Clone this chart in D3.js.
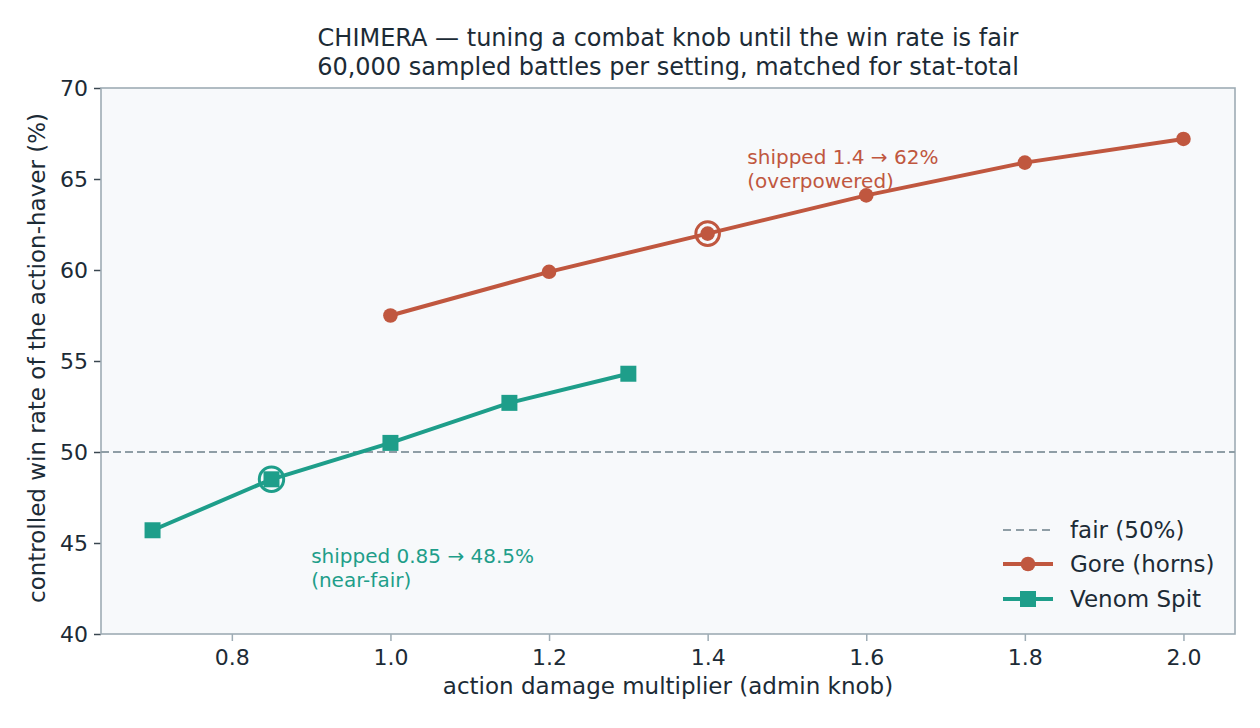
<!DOCTYPE html>
<html><head><meta charset="utf-8">
<script src="https://cdn.jsdelivr.net/npm/d3@7"></script>
<style>body{margin:0;background:#fff;font-family:"DejaVu Sans",sans-serif;}</style>
</head><body><svg id="c" width="1260" height="728"></svg>
<script>
const goreX = [1.0, 1.2, 1.4, 1.6, 1.8, 2.0];
const goreY = [57.5, 59.9, 62.0, 64.1, 65.9, 67.2];
const venomX = [0.7, 0.85, 1.0, 1.15, 1.3];
const venomY = [45.7, 48.5, 50.5, 52.7, 54.3];
const xTicks = [0.8, 1.0, 1.2, 1.4, 1.6, 1.8, 2.0];
const yTicks = [40, 45, 50, 55, 60, 65, 70];
const fairLine = 50;
const shippedGore = [1.4, 62.0];
const shippedVenom = [0.85, 48.5];

const C_GORE = "#c0573f", C_VEN = "#1e9e8a", C_TXT = "#1c2b36", C_SPINE = "#9eacb5";
const svg = d3.select("#c");
const L = 101, R = 1235, T = 88, B = 634;
const x = d3.scaleLinear().domain([0.635, 2.065]).range([L, R]);
const y = d3.scaleLinear().domain([40, 70]).range([B, T]);

svg.append("rect").attr("x", L).attr("y", T).attr("width", R - L).attr("height", B - T).attr("fill", "#f7f9fb");

// axes
const xa = svg.append("g").attr("transform", `translate(0,${B})`)
  .call(d3.axisBottom(x).tickValues(xTicks).tickFormat(d3.format(".1f")).tickSize(7).tickPadding(8));
const ya = svg.append("g").attr("transform", `translate(${L},0)`)
  .call(d3.axisLeft(y).tickValues(yTicks).tickFormat(d3.format("d")).tickSize(7).tickPadding(6));
[xa, ya].forEach(a => {
  a.select(".domain").remove();
  a.selectAll("text").attr("fill", C_TXT).style("font-size", "22px").style("font-family", "DejaVu Sans");
});
xa.selectAll("line").attr("stroke", C_SPINE).attr("stroke-width", 1.5);
ya.selectAll("line").attr("stroke", "#3a4750").attr("stroke-width", 1.5);

svg.append("rect").attr("x", L).attr("y", T).attr("width", R - L).attr("height", B - T)
  .attr("fill", "none").attr("stroke", C_SPINE).attr("stroke-width", 1.6);

// fair line
svg.append("line").attr("x1", L).attr("x2", R).attr("y1", y(fairLine)).attr("y2", y(fairLine))
  .attr("stroke", "#8f9ea6").attr("stroke-width", 2).attr("stroke-dasharray", "8,4");

const line = d3.line().x(d => x(d[0])).y(d => y(d[1]));
const gore = goreX.map((v, i) => [v, goreY[i]]);
const venom = venomX.map((v, i) => [v, venomY[i]]);

svg.append("path").datum(gore).attr("d", line).attr("fill", "none").attr("stroke", C_GORE).attr("stroke-width", 4);
svg.selectAll(".gp").data(gore).join("circle").attr("cx", d => x(d[0])).attr("cy", d => y(d[1])).attr("r", 7.3).attr("fill", C_GORE);

svg.append("path").datum(venom).attr("d", line).attr("fill", "none").attr("stroke", C_VEN).attr("stroke-width", 4);
svg.selectAll(".vp").data(venom).join("rect").attr("x", d => x(d[0]) - 8).attr("y", d => y(d[1]) - 8)
  .attr("width", 16).attr("height", 16).attr("fill", C_VEN);

// shipped rings
svg.append("circle").attr("cx", x(shippedGore[0])).attr("cy", y(shippedGore[1])).attr("r", 11.8).attr("fill", "none").attr("stroke", C_GORE).attr("stroke-width", 3);
svg.append("circle").attr("cx", x(shippedVenom[0])).attr("cy", y(shippedVenom[1])).attr("r", 12.2).attr("fill", "none").attr("stroke", C_VEN).attr("stroke-width", 3);

// annotations
function ann(lines, xv, yv, col) {
  const t = svg.append("text").attr("fill", col).style("font-size", "20px");
  lines.forEach((s, i) => t.append("tspan").attr("x", x(xv)).attr("y", y(yv) + i * 24).text(s));
}
ann(["shipped 1.4 \u2192 62%", "(overpowered)"], 1.45, 65.85, C_GORE);
ann(["shipped 0.85 \u2192 48.5%", "(near-fair)"], 0.9, 43.9, C_VEN);

// titles
const tt = svg.append("text").attr("text-anchor", "middle").attr("fill", C_TXT).style("font-size", "24px");
tt.append("tspan").attr("x", 668).attr("y", 46).text("CHIMERA \u2014 tuning a combat knob until the win rate is fair");
tt.append("tspan").attr("x", 668).attr("y", 75).text("60,000 sampled battles per setting, matched for stat-total");

svg.append("text").attr("x", (L + R) / 2).attr("y", 694).attr("text-anchor", "middle").attr("fill", C_TXT)
  .style("font-size", "23px").text("action damage multiplier (admin knob)");
svg.append("text").attr("transform", `translate(45,${(T + B) / 2 - 3}) rotate(-90)`).attr("text-anchor", "middle")
  .attr("fill", C_TXT).style("font-size", "23px").text("controlled win rate of the action-haver (%)");

// legend
const lg = svg.append("g").attr("transform", "translate(1003,0)");
const items = [
  {label: "fair (50%)", col: "#8f9ea6", dash: "8,5", w: 2, m: null, yy: 530},
  {label: "Gore (horns)", col: C_GORE, dash: null, w: 4, m: "c", yy: 564},
  {label: "Venom Spit", col: C_VEN, dash: null, w: 4, m: "s", yy: 599}
];
items.forEach(it => {
  lg.append("line").attr("x1", 0).attr("x2", 50).attr("y1", it.yy).attr("y2", it.yy)
    .attr("stroke", it.col).attr("stroke-width", it.w).attr("stroke-dasharray", it.dash);
  if (it.m === "c") lg.append("circle").attr("cx", 25).attr("cy", it.yy).attr("r", 7.3).attr("fill", it.col);
  if (it.m === "s") lg.append("rect").attr("x", 17).attr("y", it.yy - 8).attr("width", 16).attr("height", 16).attr("fill", it.col);
  lg.append("text").attr("x", 67).attr("y", it.yy + 8).attr("fill", C_TXT).style("font-size", "23px").text(it.label);
});
</script></body></html>
